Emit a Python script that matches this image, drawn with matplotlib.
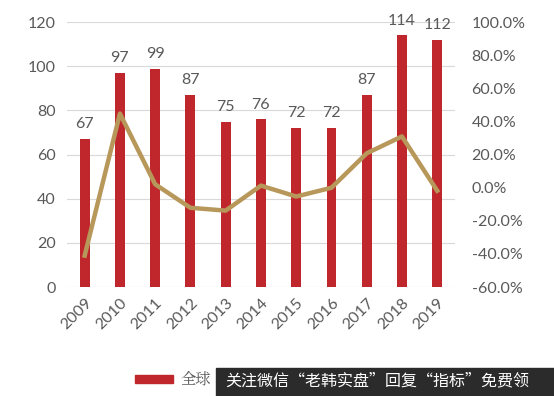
import matplotlib.pyplot as plt
from matplotlib.patches import Rectangle
from matplotlib.ticker import FuncFormatter

plt.rcParams['font.family'] = ['Lato', 'Noto Sans CJK SC', 'DejaVu Sans']

years = ['2009', '2010', '2011', '2012', '2013', '2014', '2015', '2016', '2017', '2018', '2019']
sales = [67, 97, 99, 87, 75, 76, 72, 72, 87, 114, 112]
growth = [-41.0, 44.8, 2.1, -12.1, -13.8, 1.3, -5.3, 0.0, 20.8, 31.0, -1.8]

bar_color = '#C0272D'
line_color = '#B8985A'
text_color = '#595959'

fig = plt.figure(figsize=(5.54, 3.96), dpi=100)
ax = fig.add_axes([0.121, 0.275, 0.700, 0.669])
x = list(range(len(years)))

# bars + labels on top
ax.bar(x, sales, width=0.28, color=bar_color, zorder=3)
for xi, v in zip(x, sales):
    ax.text(xi, v + 3.5, str(v), ha='center', va='bottom', fontsize=11.5, color=text_color)

ax.set_ylim(0, 120)
ax.set_yticks(range(0, 121, 20))
ax.set_xlim(-0.5, len(years) - 0.5)
ax.set_xticks(x)
ax.set_xticklabels(years, rotation=45, ha='right', rotation_mode='anchor')
ax.grid(axis='y', color='#D9D9D9', linewidth=0.8, zorder=0)
ax.tick_params(length=0, labelsize=11.5, colors=text_color, pad=8)
ax.tick_params(axis='x', pad=6)
for s in ax.spines.values():
    s.set_visible(False)

# growth line on the right axis
ax2 = ax.twinx()
ax2.plot(x, growth, color=line_color, linewidth=3.2, zorder=4)
ax2.set_ylim(-60, 100)
ax2.set_yticks(range(-60, 101, 20))
ax2.yaxis.set_major_formatter(FuncFormatter(lambda v, p: '%.1f%%' % v))
ax2.tick_params(length=0, labelsize=11.5, colors=text_color, pad=12)
for s in ax2.spines.values():
    s.set_visible(False)

# legend (partly covered by the watermark box)
fig.patches.append(Rectangle((135 / 554, 1 - 383 / 396), 38 / 554, 8 / 396,
                             transform=fig.transFigure, color=bar_color))
fig.text(180 / 554, 1 - 379 / 396, '全球', fontsize=11, color=text_color,
         va='center', family=['Noto Serif CJK SC', 'Noto Sans CJK SC'])
fig.patches.append(Rectangle((216 / 554, 0), 338 / 554, 28 / 396,
                             transform=fig.transFigure, color='#2B2B2B', zorder=5))
fig.text(225 / 554, 1 - 381 / 396, '关注微信“老韩实盘”回复“指标”免费领', fontsize=11.5,
         color='white', va='center', family=['Noto Sans CJK SC'], zorder=6)

fig.savefig('out.png', dpi=100)
